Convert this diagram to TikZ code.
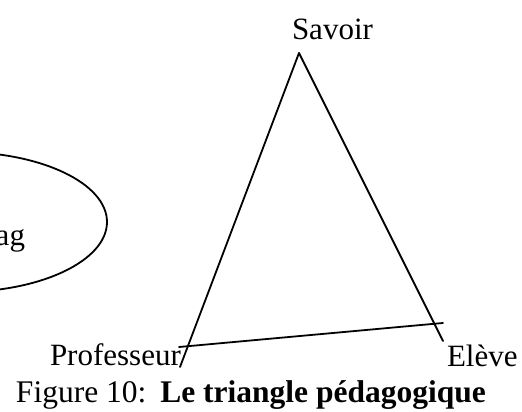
\documentclass[tikz,border=0pt]{standalone}
\usepackage{fontspec}
\setmainfont{Liberation Serif}
\begin{document}
\begin{tikzpicture}[x=1pt,y=-1pt,
  lbl/.style={inner sep=0pt,outer sep=0pt,anchor=base west,font=\fontsize{31}{37}\selectfont},
  edge/.style={line width=1.8pt,line cap=round}]
\useasboundingbox (0,0) rectangle (522,412);
\clip (0,0) rectangle (522,412);
% partially hidden ellipse on the left
\draw[edge] (-40,222) ellipse [x radius=147, y radius=70];
\node[lbl,anchor=base east] (ag) at (25,245) {ag};
% triangle
\coordinate (apex) at (299,53);
\coordinate (leftend) at (180,367);
\coordinate (rightend) at (443,341);
\coordinate (basel) at (179,347);
\coordinate (baser) at (443,323);
\draw[edge] (apex) -- (leftend);
\draw[edge] (apex) -- (rightend);
\draw[edge] (basel) -- (baser);
% labels
\node[lbl] (savoir) at (292,40) {Savoir};
\node[lbl] (prof) at (50,365) {Professeur};
\node[lbl] (eleve) at (447,366) {Elève};
\node[lbl,font=\fontsize{31.5}{37}\selectfont] (caption) at (16,402) {Figure 10:\hspace{14pt}\textbf{Le triangle pédagogique}};
\end{tikzpicture}
\end{document}
